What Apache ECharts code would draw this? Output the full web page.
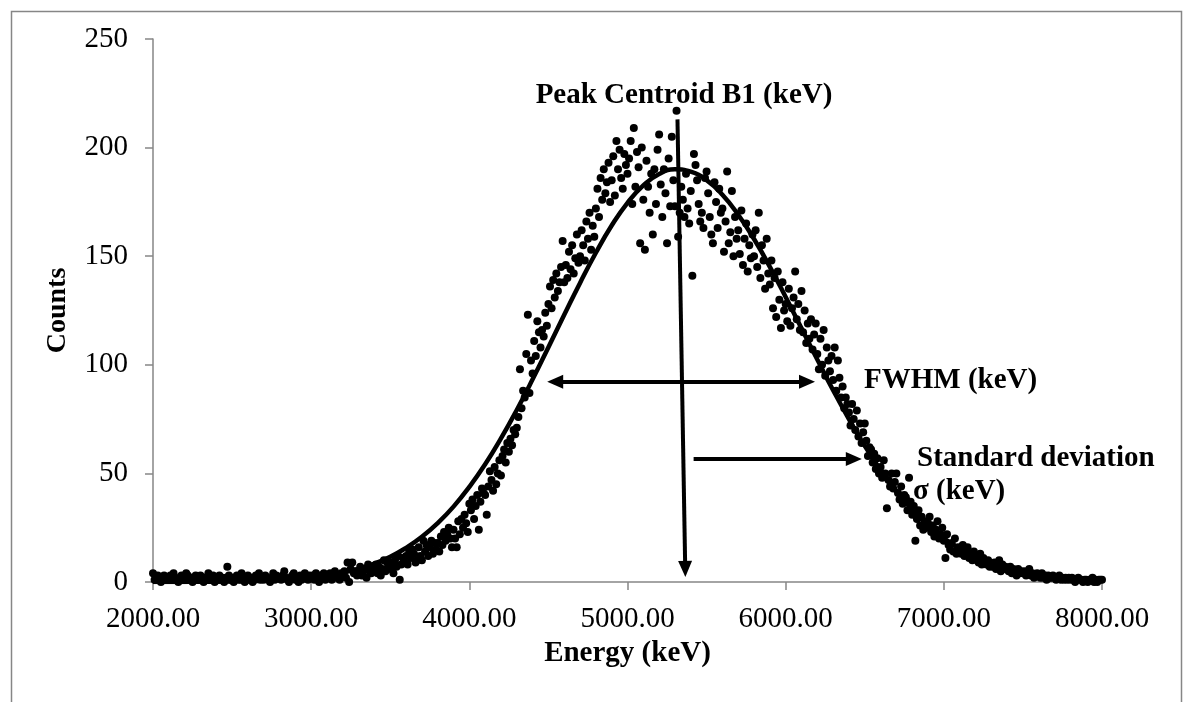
<!DOCTYPE html>
<html>
<head>
<meta charset="utf-8">
<script src="https://cdn.jsdelivr.net/npm/echarts@6/dist/echarts.min.js"></script>
<style>
html,body{margin:0;padding:0;background:#fff;}
#chart{width:1186px;height:702px;}
</style>
</head>
<body>
<div id="chart"></div>
<script>
// Energy grid of the spectrum (keV): first channel and channel width
const energyStart = 2000;
const energyStep = 10;

// Measured counts, one row per 100 keV (10 channels each), 2000 ... 8000 keV
const counts = [
  4,1,2,3,1,0,2,3,1,2,
  1,3,2,4,2,1,0,2,3,1,
  2,4,3,1,2,0,1,3,2,1,
  3,1,0,2,2,4,1,2,3,0,
  1,2,3,1,2,0,2,7,3,1,
  2,0,1,3,2,1,4,2,0,1,
  3,1,2,0,1,3,2,4,1,2,
  1,3,2,1,0,2,4,1,3,2,
  2,1,3,5,2,1,0,2,3,4,
  1,2,0,3,1,2,4,2,1,3,
  2,3,1,4,2,0,3,2,4,1,
  3,2,4,1,3,5,2,3,1,4,
  3,5,2,9,0,6,9,4,5,3,
  4,7,3,5,6,2,8,5,4,6,
  5,8,4,7,3,6,10,5,9,7,
  6,9,4,10,7,12,1,8,11,9,
  12,8,14,11,15,13,9,10,16,12,
  10,19,14,17,12,16,19,13,18,15,
  18,14,21,17,23,19,22,25,20,16,
  24,20,16,28,22,29,25,31,27,23,
  36,33,38,29,35,40,24,37,43,41,
  40,31,44,51,47,42,53,45,50,56,
  49,58,61,55,64,60,66,63,70,68,
  71,76,98,80,88,85,105,123,87,102,
  96,111,104,120,115,108,116,113,124,118,
  128,136,126,139,131,142,134,138,145,157,
  138,146,140,152,144,155,142,149,160,147,
  150,162,155,148,166,158,170,153,164,159,
  172,181,168,186,176,190,179,184,193,175,
  185,196,178,203,190,199,186,181,197,192,
  188,195,203,174,209,182,198,191,156,200,
  176,153,194,182,170,188,160,190,174,199,
  206,183,168,190,179,156,195,173,205,185,
  173,217,159,170,182,176,168,188,172,165,
  180,141,197,192,185,174,166,170,163,186,
  189,179,168,160,156,184,175,163,181,170,
  172,152,166,189,156,161,180,150,168,158,
  162,151,171,146,158,165,143,155,149,160,
  150,162,145,170,140,155,148,135,158,142,
  137,148,126,140,122,143,130,117,138,125,
  128,120,135,118,126,131,143,121,128,116,
  134,115,125,110,119,112,121,107,114,119,
  105,98,112,100,116,95,108,102,97,104,
  93,108,88,102,94,85,90,80,85,82,
  78,72,82,75,70,79,67,73,64,69,
  73,65,58,62,61,55,59,52,57,50,
  53,48,56,50,34,47,44,50,43,46,
  50,41,38,44,36,40,39,33,48,37,
  31,35,19,29,33,26,30,24,28,25,
  27,30,23,26,21,24,28,20,22,25,
  19,11,22,17,15,18,14,20,13,16,
  15,13,17,12,14,16,11,13,10,14,
  12,10,9,13,8,11,9,8,10,7,
  8,7,9,6,7,10,5,8,6,7,
  6,5,7,4,6,5,3,6,4,5,
  4,5,3,4,6,3,4,2,3,4,
  3,2,4,2,3,1,3,2,2,3,
  2,1,2,3,1,2,1,2,1,2,
  1,2,1,0,1,2,1,1,0,1,
  1,0,1,1,2,0,1,0,1,1,
  1
];

// Fitted Gaussian curve (every 100 keV)
const fitEnergy = [2000,2100,2200,2300,2400,2500,2600,2700,2800,2900,
  3000,3100,3200,3300,3400,3500,3600,3700,3800,3900,
  4000,4100,4200,4300,4400,4500,4600,4700,4800,4900,
  5000,5100,5200,5300,5400,5500,5600,5700,5800,5900,
  6000,6100,6200,6300,6400,6500,6600,6700,6800,6900,
  7000,7100,7200,7300,7400,7500,7600,7700,7800,7900,8000];
const fitCounts = [0.0,0.03,0.05,0.09,0.14,0.23,0.37,0.57,0.89,1.35,
  2.0,2.96,4.3,6.06,8.5,11.6,15.7,20.8,27.1,34.7,
  43.8,54.2,66.1,79.2,93.3,108.1,123.0,137.7,151.6,164.1,
  174.6,182.6,187.9,190.0,188.9,185.0,178.3,169.1,157.9,145.1,
  131.2,116.8,102.4,88.3,75.0,62.7,51.6,41.7,33.3,26.1,
  20.2,15.3,11.5,8.4,6.1,4.4,3.1,2.1,1.44,0.97,0.64];

// Annotation arrows [from, to] in data coordinates (energy, counts)
const peakArrow = [[5316, 213], [5365, 6]];
const fwhmArrow = [[4543, 92.2], [6135, 92.2]];
const sigmaArrow = [[5418, 56.6], [6431, 56.6]];

// Axis ticks
const xTicks = {min: 2000, max: 8000, step: 1000};
const yTicks = {min: 0, max: 250, step: 50};

const scatterData = counts.map((c, i) => [energyStart + i * energyStep, c]);
const fitData = fitEnergy.map((e, i) => [e, fitCounts[i]]);

const FONT = '"Liberation Serif","Times New Roman",serif';
const AXIS_COLOR = '#868686';

const chart = echarts.init(document.getElementById('chart'), null, {renderer: 'canvas'});
chart.setOption({
  animation: false,
  backgroundColor: '#ffffff',
  grid: {left: 153, right: 84, top: 39, bottom: 120, containLabel: false},
  xAxis: {
    type: 'value', min: xTicks.min, max: xTicks.max, interval: xTicks.step,
    name: 'Energy (keV)', nameLocation: 'middle', nameGap: 22,
    nameTextStyle: {fontFamily: FONT, fontSize: 29, fontWeight: 'bold', color: '#000'},
    axisLine: {show: true, onZero: false, lineStyle: {color: AXIS_COLOR, width: 1.5}},
    axisTick: {show: true, inside: false, length: 8, lineStyle: {color: AXIS_COLOR, width: 1.5}},
    axisLabel: {fontFamily: FONT, fontSize: 29, color: '#000', margin: 23,
      formatter: v => v.toFixed(2)},
    splitLine: {show: false}
  },
  yAxis: {
    type: 'value', min: yTicks.min, max: yTicks.max, interval: yTicks.step,
    name: 'Counts', nameLocation: 'middle', nameGap: 81,
    nameTextStyle: {fontFamily: FONT, fontSize: 28, fontWeight: 'bold', color: '#000'},
    axisLine: {show: true, lineStyle: {color: AXIS_COLOR, width: 1.5}},
    axisTick: {show: true, inside: false, length: 8, lineStyle: {color: AXIS_COLOR, width: 1.5}},
    axisLabel: {fontFamily: FONT, fontSize: 29, color: '#000', margin: 25},
    splitLine: {show: false}
  },
  series: [
    {
      name: 'Counts', type: 'scatter', data: scatterData,
      symbol: 'circle', symbolSize: 8,
      itemStyle: {color: '#000', opacity: 1}, silent: true, z: 3
    },
    {
      name: 'Fit', type: 'line', data: fitData, smooth: true, showSymbol: false,
      lineStyle: {color: '#000', width: 4.5}, silent: true, z: 4,
      markLine: {
        silent: true, animation: false,
        symbol: ['none', 'triangle'], symbolSize: [14, 16],
        lineStyle: {color: '#000', width: 4, type: 'solid'},
        label: {show: false},
        data: [
          [{coord: peakArrow[0]}, {coord: peakArrow[1]}],
          [{coord: fwhmArrow[0], symbol: 'triangle'}, {coord: fwhmArrow[1]}],
          [{coord: sigmaArrow[0]}, {coord: sigmaArrow[1]}]
        ]
      }
    }
  ],
  graphic: [
    {type: 'rect', left: 9, top: 9, silent: true,
      shape: {width: 1170, height: 720},
      style: {fill: 'none', stroke: AXIS_COLOR, lineWidth: 1.5}},
    {type: 'text', x: 684, y: 96, silent: true,
      style: {text: 'Peak Centroid B1 (keV)', font: 'bold 29px ' + FONT, fill: '#000', align: 'center', verticalAlign: 'middle'}},
    {type: 'text', x: 864, y: 381, silent: true,
      style: {text: 'FWHM (keV)', font: 'bold 29px ' + FONT, fill: '#000', align: 'left', verticalAlign: 'middle'}},
    {type: 'text', x: 917, y: 459, silent: true,
      style: {text: 'Standard deviation', font: 'bold 29px ' + FONT, fill: '#000', align: 'left', verticalAlign: 'middle'}},
    {type: 'text', x: 913, y: 492, silent: true,
      style: {text: 'σ (keV)', font: 'bold 29px ' + FONT, fill: '#000', align: 'left', verticalAlign: 'middle'}}
  ]
});
</script>
</body>
</html>
